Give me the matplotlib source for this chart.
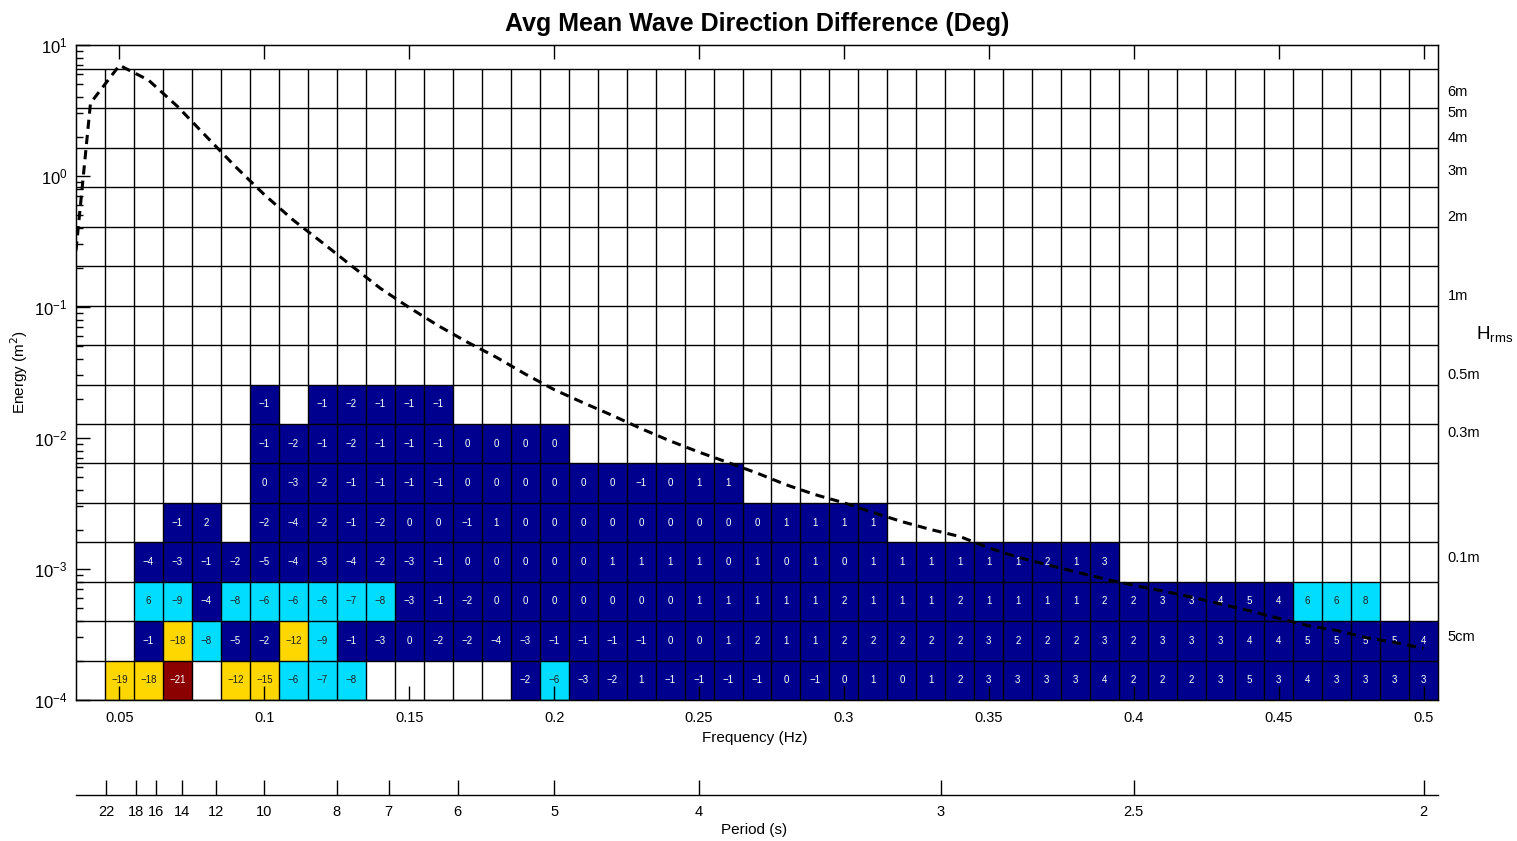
import numpy as np
import matplotlib
matplotlib.use('Agg')
import matplotlib.pyplot as plt
from matplotlib.colors import ListedColormap, BoundaryNorm
from matplotlib.ticker import LogLocator, NullFormatter

plt.rcParams['font.family'] = ['Liberation Sans', 'DejaVu Sans']

# cell values, one list per energy row (bottom row first), None = empty cell
row_start = [0.05, 0.06, 0.06, 0.06, 0.07, 0.10, 0.10, 0.10]
row_values = [
    [-19, -18, -21, None, -12, -15, -6, -7, -8, None, None, None, None, None,
     -2, -6, -3, -2, 1, -1, -1, -1, -1, 0, -1, 0, 1, 0, 1, 2, 3, 3, 3, 3, 4,
     2, 2, 2, 3, 5, 3, 4, 3, 3, 3, 3],
    [-1, -18, -8, -5, -2, -12, -9, -1, -3, 0, -2, -2, -4, -3, -1, -1, -1, -1,
     0, 0, 1, 2, 1, 1, 2, 2, 2, 2, 2, 3, 2, 2, 2, 3, 2, 3, 3, 3, 4, 4, 5, 5,
     5, 5, 4],
    [6, -9, -4, -8, -6, -6, -6, -7, -8, -3, -1, -2, 0, 0, 0, 0, 0, 0, 0, 1, 1,
     1, 1, 1, 2, 1, 1, 1, 2, 1, 1, 1, 1, 2, 2, 3, 3, 4, 5, 4, 6, 6, 8],
    [-4, -3, -1, -2, -5, -4, -3, -4, -2, -3, -1, 0, 0, 0, 0, 0, 1, 1, 1, 1, 0,
     1, 0, 1, 0, 1, 1, 1, 1, 1, 1, 2, 1, 3],
    [-1, 2, None, -2, -4, -2, -1, -2, 0, 0, -1, 1, 0, 0, 0, 0, 0, 0, 0, 0, 0,
     1, 1, 1, 1],
    [0, -3, -2, -1, -1, -1, -1, 0, 0, 0, 0, 0, 0, -1, 0, 1, 1],
    [-1, -2, -1, -2, -1, -1, -1, 0, 0, 0, 0],
    [-1, None, -1, -2, -1, -1, -1],
]

# mean energy spectrum (dashed line)
spec_freq = [0.035, 0.04, 0.05, 0.06, 0.07, 0.08, 0.09, 0.10, 0.11, 0.12,
             0.13, 0.14, 0.15, 0.16, 0.17, 0.18, 0.19, 0.20, 0.21, 0.22,
             0.23, 0.24, 0.25, 0.26, 0.27, 0.28, 0.29, 0.30, 0.31, 0.32,
             0.33, 0.34, 0.35, 0.36, 0.37, 0.38, 0.39, 0.40, 0.41, 0.42,
             0.43, 0.44, 0.45, 0.46, 0.47, 0.48, 0.49, 0.50]
spec_energy = [0.27, 3.6, 7.0, 5.4, 3.4, 2.0, 1.18, 0.72, 0.46, 0.31,
               0.207, 0.139, 0.099, 0.072, 0.054, 0.0414, 0.0308, 0.0234,
               0.0186, 0.0149, 0.0118, 0.0095, 0.0078, 0.0065, 0.0054,
               0.0044, 0.0037, 0.0032, 0.0027, 0.0023, 0.0020, 0.00177,
               0.00145, 0.00123, 0.00108, 0.00095, 0.00084, 0.00075,
               0.00068, 0.00061, 0.00054, 0.00048, 0.00042, 0.00037,
               0.00034, 0.00030, 0.000275, 0.000248]

freq_ticks = [0.05, 0.1, 0.15, 0.2, 0.25, 0.3, 0.35, 0.4, 0.45, 0.5]
freq_labels = ['0.05', '0.1', '0.15', '0.2', '0.25', '0.3', '0.35', '0.4', '0.45', '0.5']
period_values = [22, 18, 16, 14, 12, 10, 8, 7, 6, 5, 4, 3, 2.5, 2]
period_labels = ['22', '18', '16', '14', '12', '10', '8', '7', '6', '5', '4', '3', '2.5', '2']
hrms_values = [6, 5, 4, 3, 2, 1, 0.5, 0.3, 0.1, 0.05]
hrms_labels = ['6m', '5m', '4m', '3m', '2m', '1m', '0.5m', '0.3m', '0.1m', '5cm']

# bin edges
f_edges = np.round(0.035 + 0.01 * np.arange(48), 3)
e_edges = 1e-4 * 2.0 ** np.arange(17)

grid = np.full((len(e_edges) - 1, len(f_edges) - 1), np.nan)
for r, (f0, vals) in enumerate(zip(row_start, row_values)):
    c0 = int(round((f0 - f_edges[0]) / 0.01 - 0.5))
    for k, v in enumerate(vals):
        if v is not None:
            grid[r, c0 + k] = v

W, H = 1517, 841
fig = plt.figure(figsize=(W / 100, H / 100), dpi=100)
ax = fig.add_axes([76 / W, 1 - 700 / H, 1362 / W, 655 / H])

cmap = ListedColormap(['#00008F', '#00DDFF', '#FFD700', '#8B0000'])
cmap.set_bad((0, 0, 0, 0))
norm = BoundaryNorm([0, 5.5, 9.5, 20.5, 180], cmap.N)
ax.pcolormesh(f_edges, e_edges, np.ma.masked_invalid(np.abs(grid)),
              cmap=cmap, norm=norm, edgecolors='none', zorder=1)

# cell grid
ax.vlines(f_edges[1:-1], e_edges[0], e_edges[-1], color='k', lw=1.0, zorder=2)
ax.hlines(e_edges, f_edges[0], f_edges[-1], color='k', lw=1.0, zorder=2)

# cell labels
for r in range(grid.shape[0]):
    for c in range(grid.shape[1]):
        v = grid[r, c]
        if np.isnan(v):
            continue
        a = abs(v)
        tc = 'white' if (a <= 5 or a > 20) else '#202020'
        txt = ('%d' % v).replace('-', '\u2212')
        ax.text((f_edges[c] + f_edges[c + 1]) / 2, np.sqrt(e_edges[r] * e_edges[r + 1]),
                txt, ha='center', va='center', fontsize=7, color=tc, zorder=3)

ax.plot(spec_freq, spec_energy, color='k', lw=2.2, ls=(0, (3, 2)), zorder=5)

ax.set_yscale('log')
ax.set_xlim(f_edges[0], f_edges[-1])
ax.set_ylim(1e-4, 10)
ax.set_xticks(freq_ticks)
ax.set_xticklabels(freq_labels)
ax.yaxis.set_major_locator(LogLocator(base=10, numticks=10))
ax.yaxis.set_minor_locator(LogLocator(base=10, subs=np.arange(2, 10), numticks=10))
ax.yaxis.set_minor_formatter(NullFormatter())
ax.tick_params(which='both', direction='in', top=True, right=True, labelsize=10.5)
ax.tick_params(axis='y', labelsize=12, pad=6)
ax.tick_params(which='major', length=10, width=1)
ax.tick_params(which='minor', length=5, width=1)
ax.tick_params(axis='x', pad=8)
for s in ax.spines.values():
    s.set_linewidth(1.0)
    s.set_zorder(6)

ax.set_title('Avg Mean Wave Direction Difference (Deg)', fontsize=18,
             fontweight='bold', pad=10)
ax.set_xlabel('Frequency (Hz)', fontsize=11)
ax.xaxis.set_label_coords(0.498, -0.047)
ax.set_ylabel('Energy (m$^2$)', fontsize=11)
ax.yaxis.set_label_coords(-0.034, 0.5)

# Hrms labels on the right
ax2 = ax.twinx()
ax2.set_yscale('log')
ax2.set_ylim(1e-4, 10)
ax2.set_yticks([h ** 2 / 8 for h in hrms_values])
ax2.set_yticklabels(hrms_labels)
ax2.yaxis.set_minor_locator(matplotlib.ticker.NullLocator())
ax2.tick_params(axis='y', length=0, pad=7, labelsize=10.5)
fig.text(1476 / W, 1 - 335 / H, 'H$_{\\mathregular{rms}}$', fontsize=13.5,
         ha='left', va='center')

# period axis
pax = fig.add_axes([76 / W, 1 - 795 / H, 1362 / W, 0.0001])
pax.set_xlim(f_edges[0], f_edges[-1])
pax.set_xticks([1.0 / p for p in period_values])
pax.set_xticklabels(period_labels)
pax.set_yticks([])
for s in ['top', 'left', 'right']:
    pax.spines[s].set_visible(False)
pax.spines['bottom'].set_linewidth(1.0)
pax.tick_params(axis='x', direction='in', length=11, width=1, pad=7, labelsize=10.5)
pax.patch.set_visible(False)
fig.text(754 / W, 1 - 830 / H, 'Period (s)', fontsize=11, ha='center', va='center')

fig.savefig('out.png', dpi=100)
